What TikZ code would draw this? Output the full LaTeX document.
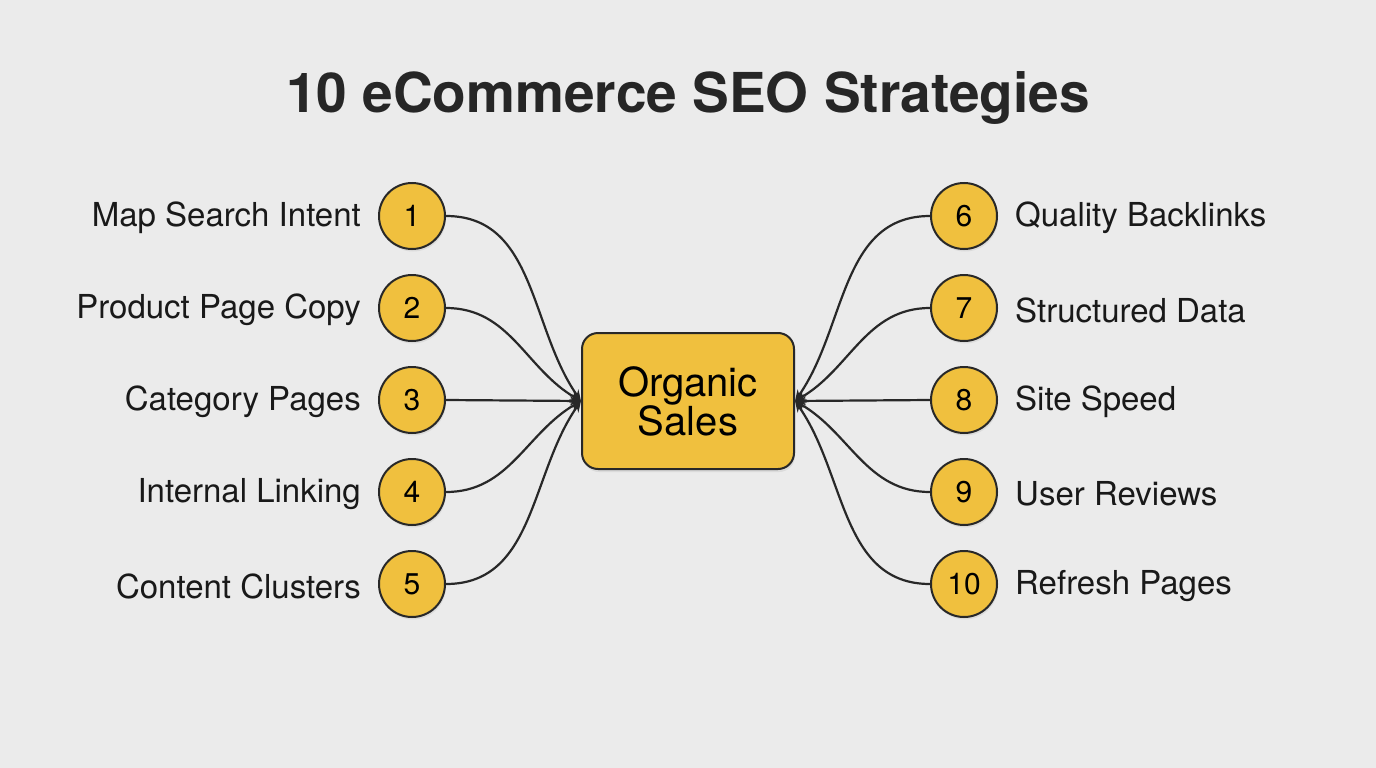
\documentclass[tikz,border=0pt]{standalone}
\usepackage{fontspec}
\setmainfont{TeX Gyre Heros}
\usetikzlibrary{arrows.meta,positioning,shadows}
\definecolor{bgpaper}{RGB}{235,235,235}
\definecolor{gold}{RGB}{240,192,62}
\definecolor{inkline}{RGB}{40,40,40}
\tikzset{
	numdot/.style={circle, draw=inkline, line width=2pt, fill=gold, minimum size=66pt,
		inner sep=0pt, font=\fontsize{30}{34}\selectfont,
		drop shadow={opacity=0.15, shadow xshift=1pt, shadow yshift=-2.5pt}},
	tactic/.style={inner sep=0pt, font=\fontsize{33}{36}\selectfont, text=black!90, yshift=-2pt},
	link/.style={-{Stealth[length=11pt, width=9pt]}, line width=2.2pt, draw=inkline}
}
\begin{document}
\begin{tikzpicture}[x=1pt, y=-1pt, node distance=24pt and 17pt]
	\fill[bgpaper] (0,0) rectangle (1376,768);
	\useasboundingbox (0,0) rectangle (1376,768);
	\node[font=\fontsize{55}{60}\selectfont\bfseries, text=black!85] (title) at (688,98) {10 eCommerce SEO Strategies};
	% hub in the middle
	\node[rectangle, rounded corners=16pt, draw=inkline, line width=2pt, fill=gold,
		minimum width=212pt, minimum height=136pt, align=center,
		font=\fontsize{40}{39}\selectfont,
		drop shadow={opacity=0.15, shadow xshift=1pt, shadow yshift=-3pt}] (sales) at (688,401) {Organic\\Sales};
	% left column
	\node[numdot] (n1) at (412,216) {1};
	\node[numdot, below=of n1] (n2) {2};
	\node[numdot, below=of n2] (n3) {3};
	\node[numdot, below=of n3] (n4) {4};
	\node[numdot, below=of n4] (n5) {5};
	\node[tactic, left=of n1] (t1) {Map Search Intent};
	\node[tactic, left=of n2] (t2) {Product Page Copy};
	\node[tactic, left=of n3] (t3) {Category Pages};
	\node[tactic, left=of n4] (t4) {Internal Linking};
	\node[tactic, left=of n5] (t5) {Content Clusters};
	% right column
	\node[numdot] (n6) at (964,216) {6};
	\node[numdot, below=of n6] (n7) {7};
	\node[numdot, below=of n7] (n8) {8};
	\node[numdot, below=of n8] (n9) {9};
	\node[numdot, below=of n9] (n10) {10};
	\node[tactic, right=of n6] (t6) {Quality Backlinks};
	\node[tactic, right=of n7] (t7) {Structured Data};
	\node[tactic, right=of n8] (t8) {Site Speed};
	\node[tactic, right=of n9] (t9) {User Reviews};
	\node[tactic, right=of n10] (t10) {Refresh Pages};
	% connectors
	\draw[link] (n1.east) to[out=0, in=125] (sales.west);
	\draw[link] (n2.east) to[out=0, in=150] (sales.west);
	\draw[link] (n3.east) -- (sales.west);
	\draw[link] (n4.east) to[out=0, in=210] (sales.west);
	\draw[link] (n5.east) to[out=0, in=235] (sales.west);
	\draw[link] (n6.west) to[out=180, in=55] (sales.east);
	\draw[link] (n7.west) to[out=180, in=30] (sales.east);
	\draw[link] (n8.west) -- (sales.east);
	\draw[link] (n9.west) to[out=180, in=-30] (sales.east);
	\draw[link] (n10.west) to[out=180, in=-55] (sales.east);
\end{tikzpicture}
\end{document}
